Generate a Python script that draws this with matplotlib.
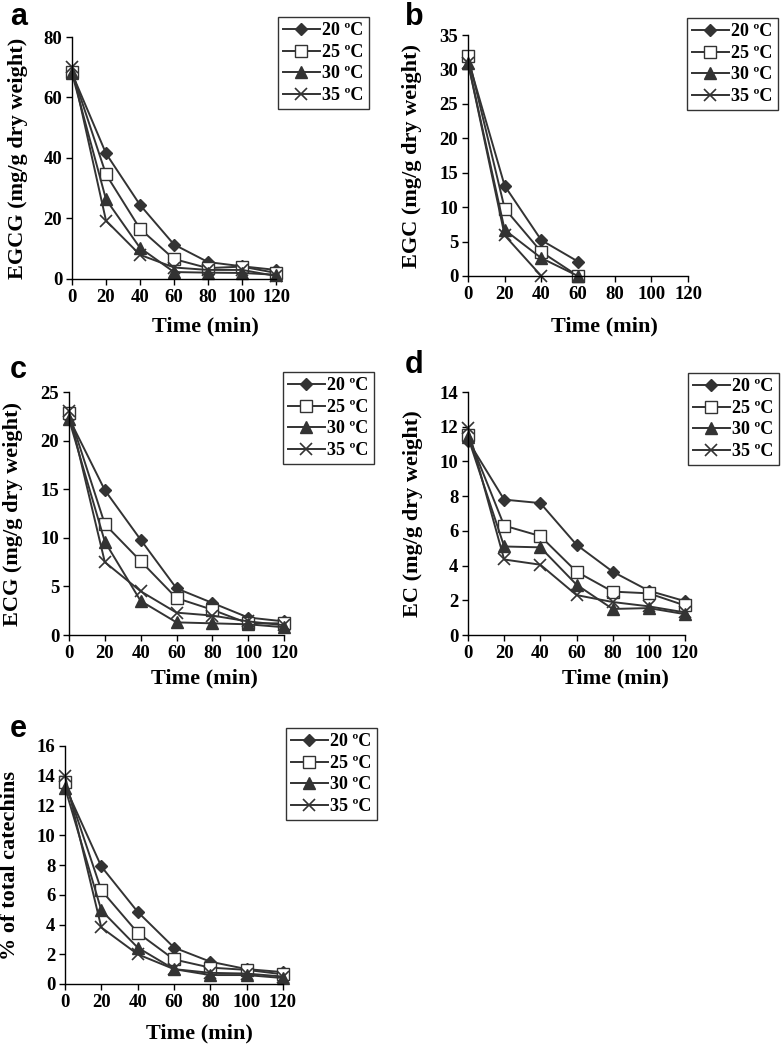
import numpy as np
import matplotlib
matplotlib.use("Agg")
import matplotlib.pyplot as plt

plt.rcParams['font.family'] = ['Liberation Serif', 'DejaVu Serif']
plt.rcParams['font.weight'] = 'bold'

time = [0, 20, 40, 60, 80, 100, 120]
temps = ["20 ºC", "25 ºC", "30 ºC", "35 ºC"]

egcg_20 = [68, 41.5, 24.5, 11.4, 5.6, 4.2, 3.0]
egcg_25 = [68.5, 34.6, 16.6, 6.6, 3.6, 4.1, 2.0]
egcg_30 = [68, 26.3, 10.3, 2.3, 2.1, 2.0, 1.4]
egcg_35 = [70, 19.3, 8.0, 3.8, 3.0, 3.0, 1.0]

egc_20 = [31.5, 13.1, 5.2, 2.1, np.nan, np.nan, np.nan]
egc_25 = [32.0, 9.8, 3.5, 0.0, np.nan, np.nan, np.nan]
egc_30 = [31.0, 6.7, 2.6, 0.0, np.nan, np.nan, np.nan]
egc_35 = [31.0, 5.9, 0.0, np.nan, np.nan, np.nan, np.nan]

ecg_20 = [22.3, 14.9, 9.8, 4.8, 3.3, 1.8, 1.4]
ecg_25 = [22.8, 11.4, 7.6, 3.8, 2.6, 1.2, 1.2]
ecg_30 = [22.2, 9.6, 3.5, 1.3, 1.2, 1.1, 0.8]
ecg_35 = [23.0, 7.5, 4.5, 2.3, 2.0, 1.4, 1.0]

ec_20 = [11.2, 7.8, 7.6, 5.2, 3.65, 2.55, 1.95]
ec_25 = [11.5, 6.3, 5.7, 3.65, 2.5, 2.4, 1.7]
ec_30 = [11.4, 5.1, 5.05, 2.9, 1.5, 1.55, 1.2]
ec_35 = [11.9, 4.35, 4.05, 2.3, 1.9, 1.65, 1.3]

pct_20 = [13.3, 7.9, 4.85, 2.45, 1.5, 1.0, 0.8]
pct_25 = [13.6, 6.3, 3.45, 1.65, 1.1, 0.95, 0.65]
pct_30 = [13.2, 4.95, 2.45, 1.0, 0.6, 0.6, 0.4]
pct_35 = [14.0, 3.8, 2.0, 1.0, 0.75, 0.7, 0.5]

panels = [
    dict(letter='a', series=[egcg_20, egcg_25, egcg_30, egcg_35], ylabel='EGCG (mg/g dry weight)',
         ylim=80, ystep=20, rect=(72, 37, 276, 279), leg=(278, 17),
         ylab_x=-0.216, xlab=(0.652, -0.153), let=(10, 25)),
    dict(letter='b', series=[egc_20, egc_25, egc_30, egc_35], ylabel='EGC (mg/g dry weight)',
         ylim=35, ystep=5, rect=(468, 35, 688, 276), leg=(687, 18),
         ylab_x=-0.209, xlab=(0.618, -0.17), let=(405, 25)),
    dict(letter='c', series=[ecg_20, ecg_25, ecg_30, ecg_35], ylabel='ECG (mg/g dry weight)',
         ylim=25, ystep=5, rect=(69, 392, 284, 635), leg=(283, 372),
         ylab_x=-0.214, xlab=(0.63, -0.136), let=(10, 378)),
    dict(letter='d', series=[ec_20, ec_25, ec_30, ec_35], ylabel='EC (mg/g dry weight)',
         ylim=14, ystep=2, rect=(468, 392, 685, 635), leg=(688, 373),
         ylab_x=-0.207, xlab=(0.68, -0.136), let=(405, 373)),
    dict(letter='e', series=[pct_20, pct_25, pct_30, pct_35], ylabel='% of total catechins',
         ylim=16, ystep=2, rect=(65, 746, 283, 984), leg=(286, 728),
         ylab_x=-0.206, xlab=(0.617, -0.164), let=(10, 737)),
]

W, H = 782, 1044
fig = plt.figure(figsize=(W / 100, H / 100), dpi=100)

col = '#333333'
styles = [
    dict(marker='D', ms=6.5, mfc=col, mec=col),
    dict(marker='s', ms=8.5, mfc='white', mec=col, mew=1.0),
    dict(marker='^', ms=8.5, mfc=col, mec=col),
    dict(marker='x', ms=8, mec=col, mew=1.2),
]

for p in panels:
    x0, y0, x1, y1 = p['rect']
    ax = fig.add_axes([x0 / W, 1 - y1 / H, (x1 - x0) / W, (y1 - y0) / H])
    for s, st, lab in zip(p['series'], styles, temps):
        ax.plot(time, s, color=col, lw=1.4, label=lab, clip_on=False, **st)
    ax.set_xlim(0, 120)
    ax.set_ylim(0, p['ylim'])
    ax.set_xticks(time)
    ax.set_yticks(np.arange(0, p['ylim'] + 0.01, p['ystep']))
    for sp in ['top', 'right']:
        ax.spines[sp].set_visible(False)
    for sp in ['left', 'bottom']:
        ax.spines[sp].set_linewidth(1.0)
        ax.spines[sp].set_color('black')
    ax.tick_params(direction='out', length=4, width=1, labelsize=13.5, pad=3)
    for t in ax.get_xticklabels() + ax.get_yticklabels():
        t.set_fontweight('bold')
    ax.set_ylabel(p['ylabel'], fontsize=16, fontweight='bold')
    ax.yaxis.set_label_coords(p['ylab_x'], 0.5)
    ax.set_xlabel('Time (min)', fontsize=16, fontweight='bold')
    ax.xaxis.set_label_coords(*p['xlab'])
    lx, ly = p['leg']
    leg = ax.legend(loc='upper left', bbox_to_anchor=(lx / W, 1 - ly / H),
                    bbox_transform=fig.transFigure, borderaxespad=0,
                    prop=dict(family='Liberation Serif', weight='bold', size=13),
                    frameon=True, fancybox=False, edgecolor='black',
                    handlelength=2.0, handletextpad=0.15, labelspacing=0.25,
                    borderpad=0.3)
    leg.get_frame().set_linewidth(1.0)
    fig.text(p['let'][0] / W, 1 - p['let'][1] / H, p['letter'], fontsize=22,
             fontweight='bold', family='Liberation Sans', ha='left', va='baseline')

fig.savefig('out.png', dpi=100)
